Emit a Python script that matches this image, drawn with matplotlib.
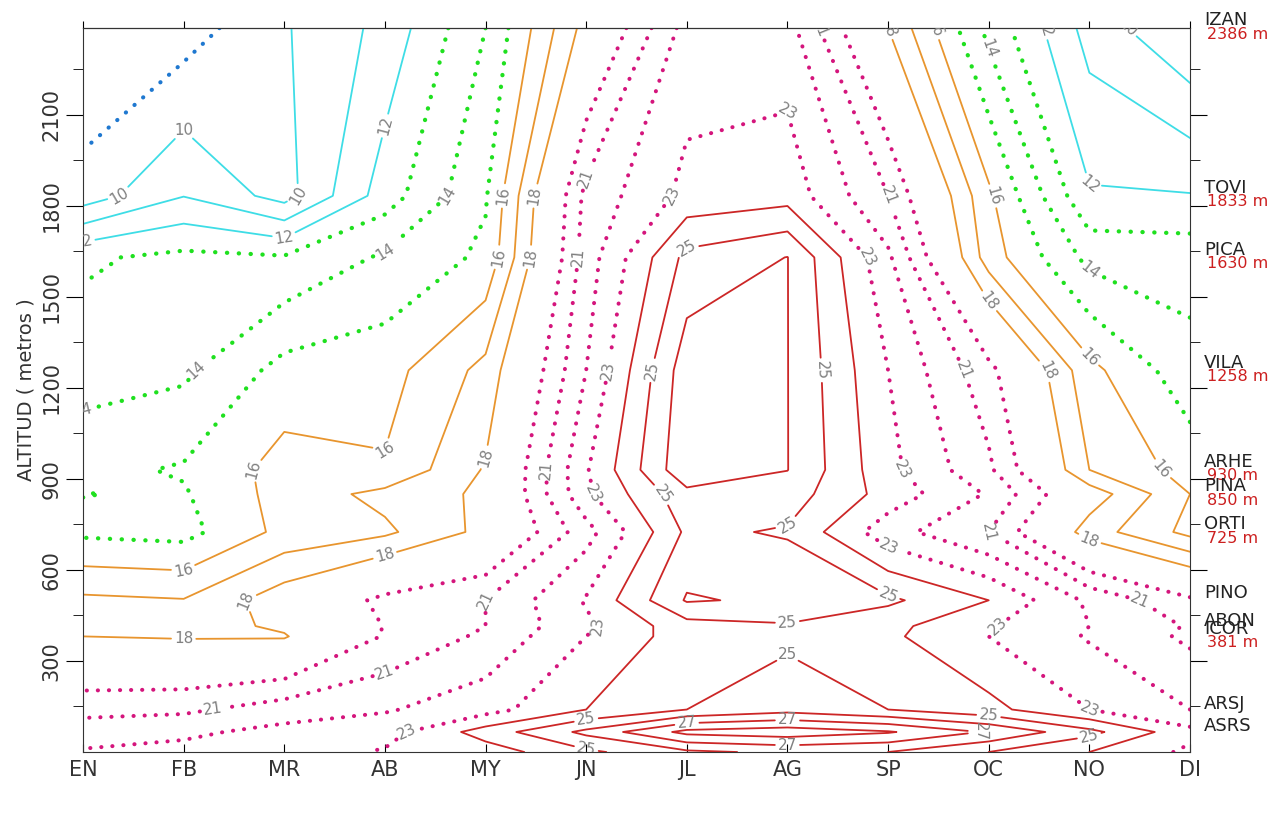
import numpy as np
import matplotlib
matplotlib.use("Agg")
import matplotlib.pyplot as plt

# months and station rows (altitude in m), temperature table (degC)
meses = ["EN", "FB", "MR", "AB", "MY", "JN", "JL", "AG", "SP", "OC", "NO", "DI"]

altitudes = [0, 66, 140, 381, 415, 500, 725, 850, 930, 1258, 1630, 1833, 2386]

temp = [
    [22.1, 22.3, 22.5, 23.1, 23.5, 24.8, 25.8, 26.2, 26.0, 25.0, 24.0, 22.8],   # 0 m
    [21.5, 21.8, 22.3, 22.6, 24.45, 26.25, 28.3, 28.6, 28.1, 26.9, 25.3, 23.3], # ASRS
    [20.7, 20.8, 21.5, 21.9, 22.6, 24.0, 25.0, 25.6, 25.0, 24.3, 23.0, 22.0],   # ARSJ
    [18.0, 17.9, 17.9, 20.1, 21.2, 23.0, 24.5, 24.8, 24.2, 23.0, 21.9, 20.8],   # ICOR
    [17.7, 17.5, 18.2, 20.05, 21.0, 22.8, 24.6, 24.9, 24.3, 23.1, 22.0, 20.9],  # ABON
    [17.2, 17.05, 18.6, 20.3, 21.0, 23.1, 26.1, 25.8, 25.2, 24.0, 21.8, 20.2],  # PINO
    [14.8, 14.65, 16.3, 16.8, 18.3, 21.6, 25.2, 24.9, 22.4, 21.0, 17.5, 15.7],  # ORTI
    [15.02, 14.9, 16.4, 17.3, 18.2, 22.8, 25.7, 25.5, 23.6, 21.9, 18.6, 16.0],  # PINA
    [14.74, 15.1, 16.4, 16.1, 18.1, 22.9, 26.8, 26.02, 23.3, 21.2, 17.0, 15.6], # ARHE
    [13.5, 13.8, 15.35, 15.6, 17.3, 22.0, 26.6, 26.02, 23.0, 20.35, 16.3, 14.35], # VILA
    [12.85, 13.25, 13.1, 14.15, 15.2, 21.5, 25.3, 26.02, 22.2, 16.5, 13.7, 13.6], # PICA
    [9.45, 10.97, 9.6, 12.5, 14.9, 21.3, 23.3, 23.6, 21.0, 16.2, 12.1, 12.05],  # TOVI
    [7.8, 8.5, 9.9, 11.3, 14.0, 18.4, 22.4, 22.4, 18.0, 13.7, 10.6, 9.0],       # IZAN
]

niveles = [9, 10, 11, 12, 13, 14, 15, 16, 17, 18, 20, 21, 22, 23, 24, 25, 26, 27, 28]
etiquetados = [10, 12, 14, 16, 18, 21, 23, 25, 27]

estaciones = ["IZAN", "TOVI", "PICA", "VILA", "ARHE", "PINA", "ORTI",
              "PINO", "ABON", "ICOR", "ARSJ", "ASRS"]
est_alt = [2386, 1833, 1630, 1258, 930, 850, 725, 500, 408, 381, 132, 59]
est_txt = ["2386 m", "1833 m", "1630 m", "1258 m", "930 m", "850 m", "725 m",
           "", "", "381 m", "", ""]


def estilo(v):
    dots = (0, (0.05, 2.7))
    if v < 10:
        return "#1f78d0", dots, 3.0
    if v <= 12:
        return "#3edde6", "solid", 1.3
    if v <= 15:
        return "#1fe01f", dots, 3.1
    if v <= 18:
        return "#e8952e", "solid", 1.3
    if v <= 23:
        return "#d4157c", dots, 2.9
    return "#cc2626", "solid", 1.3


def dibuja(ax, x, y, z, levs):
    cols = [estilo(v)[0] for v in levs]
    lss = [estilo(v)[1] for v in levs]
    lws = [estilo(v)[2] for v in levs]
    cs = ax.contour(x, y, z, levels=levs, colors=cols, linestyles=lss, linewidths=lws)
    cs.set_capstyle("round")
    return cs


def puntos_etiqueta(ax, cs, paso=170, inicio=60):
    # spots along every labelled line, one each `paso` pixels
    pts = []
    for path in cs.get_paths():
        for poly in path.to_polygons(closed_only=False):
            if len(poly) < 2:
                continue
            pix = ax.transData.transform(poly)
            d = np.r_[0, np.cumsum(np.hypot(*np.diff(pix, axis=0).T))]
            if d[-1] < 50:
                continue
            for s in np.arange(min(inicio, d[-1] / 2), d[-1] - 25, paso):
                i = min(np.searchsorted(d, s), len(poly) - 1)
                pts.append(tuple(poly[i]))
    return pts


def main():
    fig = plt.figure(figsize=(12.68, 8.25), dpi=100)
    ax = fig.add_axes([83 / 1268, 1 - 752 / 825, (1190 - 83) / 1268, (752 - 28) / 825])

    x = np.arange(len(meses))
    y = np.array(altitudes)
    z = np.array(temp)

    otros = [v for v in niveles if v not in etiquetados]
    dibuja(ax, x, y, z, otros)
    cs = dibuja(ax, x, y, z, etiquetados)
    ax.set_xlim(0, 11)
    ax.set_ylim(0, 2386)
    pts = puntos_etiqueta(ax, cs)
    ax.clabel(cs, fmt="%d", fontsize=11, colors="0.5",
              inline=True, inline_spacing=3, manual=pts)

    ax.set_xticks(x)
    ax.set_xticklabels(meses, fontsize=15, color="#333333")
    ax.set_yticks(range(300, 2101, 300))
    ax.set_yticks(range(150, 2386, 150), minor=True)
    ax.tick_params(axis="y", which="major", labelsize=15, labelrotation=90,
                   direction="out", length=12, left=True, right=True, labelcolor="#333333")
    ax.tick_params(axis="y", which="minor", direction="out", length=7, left=True, right=True)
    ax.tick_params(axis="x", direction="in", length=6, pad=6)
    for lab in ax.get_yticklabels():
        lab.set_va("center")

    top = ax.secondary_xaxis("top")
    top.set_xticks(x)
    top.tick_params(direction="out", length=5, labeltop=False)

    for s in ax.spines.values():
        s.set_color("#333333")

    ax.set_xlabel("MESES", fontsize=14, color="#333333", labelpad=32)
    ax.set_ylabel("ALTITUD ( metros )", fontsize=14, color="#333333", labelpad=4)

    for nom, alt, txt in zip(estaciones, est_alt, est_txt):
        ax.annotate(nom, xy=(1.0, alt), xycoords=("axes fraction", "data"),
                    xytext=(10, -1), textcoords="offset points",
                    fontsize=13, color="#222222", va="bottom", ha="left",
                    annotation_clip=False)
        if txt:
            ax.annotate(txt, xy=(1.0, alt), xycoords=("axes fraction", "data"),
                        xytext=(12, 1), textcoords="offset points",
                        fontsize=11.5, color="#cc1f1f", va="top", ha="left",
                        annotation_clip=False)

    fig.savefig("out.png", dpi=100)


if __name__ == "__main__":
    main()
